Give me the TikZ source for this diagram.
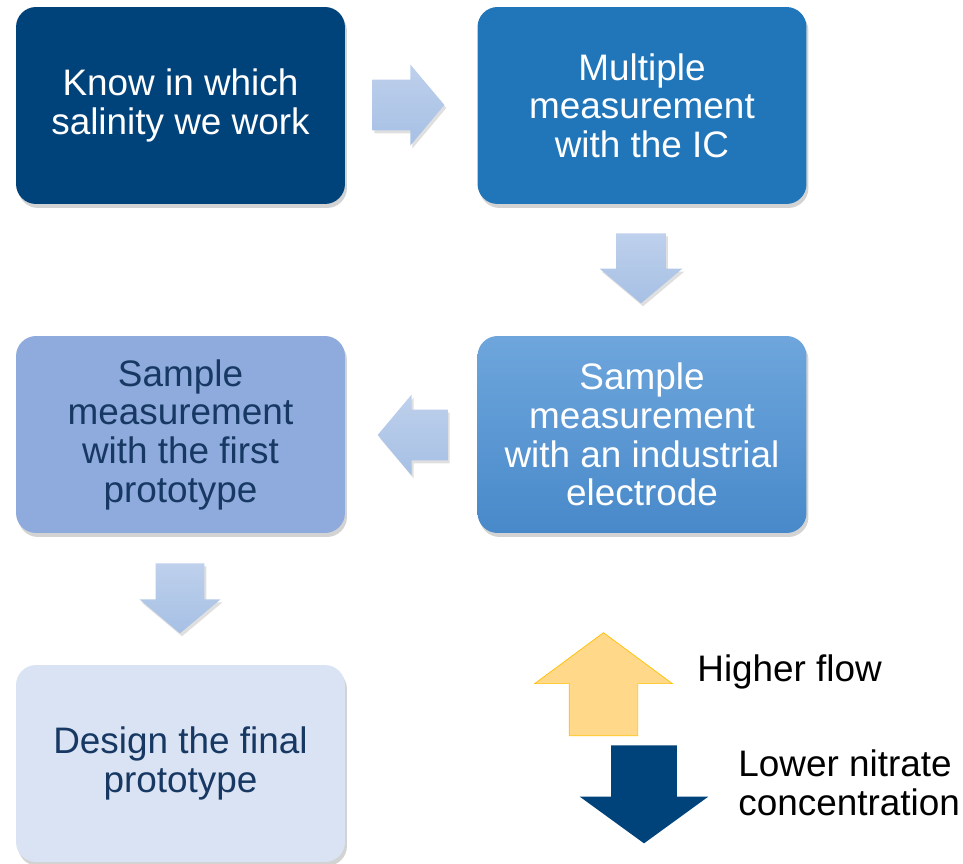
\documentclass[tikz,border=0pt]{standalone}
\usepackage{fontspec}
\setmainfont{Liberation Sans}
\usetikzlibrary{shapes.arrows,shadows}

\definecolor{navy}{RGB}{0,66,122}
\definecolor{midblue}{RGB}{33,118,186}
\definecolor{skytop}{RGB}{110,166,220}
\definecolor{skybot}{RGB}{72,137,202}
\definecolor{paleblue}{RGB}{143,170,220}
\definecolor{icyblue}{RGB}{218,227,243}
\definecolor{inktext}{RGB}{22,56,98}
\definecolor{arrtop}{RGB}{190,208,236}
\definecolor{arrbot}{RGB}{166,192,228}
\definecolor{sunfill}{RGB}{255,216,138}
\definecolor{sunline}{RGB}{255,192,0}

\begin{document}
\begin{tikzpicture}[x=0.02cm, y=-0.02cm,
  stepbox/.style={rounded corners=0.4cm, minimum width=6.58cm, minimum height=3.94cm,
    inner sep=0pt, align=center, font=\fontsize{21}{22}\selectfont,
    drop shadow={opacity=0.35, shadow xshift=0.04cm, shadow yshift=-0.08cm}},
  flowarrow/.style={single arrow, draw=none, anchor=tail,
    top color=arrtop, bottom color=arrbot, single arrow tip angle=100,
    drop shadow={opacity=0.25, shadow xshift=0.04cm, shadow yshift=-0.06cm}},
  note/.style={anchor=west, align=left, inner sep=0pt, font=\fontsize{21}{22}\selectfont}]
       \useasboundingbox (0,0) rectangle (963,864);

       % the five steps
       \node[stepbox, fill=navy, text=white]  (know) at (180.5,105.5) {Know in which\\salinity we work};
       \node[stepbox, fill=midblue, text=white]  (multi) at (642,105.5) {Multiple\\measurement\\with the IC};
       \node[stepbox, top color=skytop, bottom color=skybot, text=white]  (indus) at (642,434.5) {Sample\\measurement\\with an industrial\\electrode};
       \node[stepbox, fill=paleblue, text=inktext]  (proto) at (180.5,434.5) {Sample\\measurement\\with the first\\prototype};
       \node[stepbox, fill=icyblue, text=inktext]  (final) at (180.5,763.5) {Design the final\\prototype};

       % arrows between the steps
       \node[flowarrow, inner xsep=0pt, inner ysep=0.5cm, minimum height=1.44cm, minimum width=1.6cm,
         single arrow head extend=0.3cm]  (go1) at (372,105) {};
       \node[flowarrow, shape border rotate=270, inner xsep=0.49cm, inner ysep=0pt,
         minimum height=1.4cm, minimum width=1.64cm, single arrow head extend=0.33cm]  (go2) at (641,233) {};
       \node[flowarrow, shape border rotate=180, inner xsep=0pt, inner ysep=0.5cm,
         minimum height=1.4cm, minimum width=1.6cm, single arrow head extend=0.3cm]  (go3) at (448,435) {};
       \node[flowarrow, shape border rotate=270, inner xsep=0.48cm, inner ysep=0pt,
         minimum height=1.4cm, minimum width=1.6cm, single arrow head extend=0.32cm]  (go4) at (180,563) {};

       % legend
       \node[single arrow, anchor=tail, shape border rotate=90, fill=sunfill, draw=sunline, thin,
         inner xsep=0.68cm, inner ysep=0pt,
         minimum height=2.06cm, minimum width=2.74cm, single arrow head extend=0.69cm,
         single arrow tip angle=107]  (up) at (603.5,736) {};
       \node[single arrow, anchor=tail, shape border rotate=270, fill=navy, draw=none,
         inner xsep=0.65cm, inner ysep=0pt,
         minimum height=1.96cm, minimum width=2.56cm, single arrow head extend=0.63cm,
         single arrow tip angle=108]  (down) at (644,745) {};
       \node[note]  (flow) at (697,672) {Higher flow};
       \node[note]  (nitrate) at (738,783) {Lower nitrate\\concentration};
      \end{tikzpicture}
\end{document}
